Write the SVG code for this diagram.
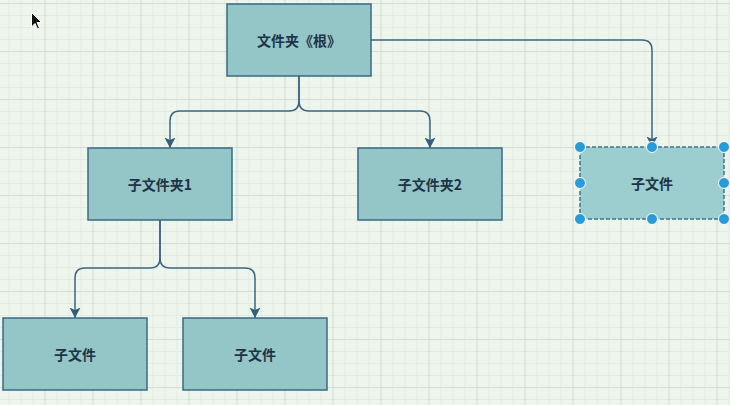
<svg xmlns="http://www.w3.org/2000/svg" width="730" height="405" viewBox="0 0 730 405">
  <defs>
    <pattern id="grid" patternUnits="userSpaceOnUse" x="44.5" y="3" width="48" height="48">
      <rect width="48" height="48" fill="#eef5ec"/>
      <path d="M12.5,0V48M24.5,0V48M36.5,0V48M0,12.5H48M0,24.5H48M0,36.5H48" stroke="#e3ebe1" stroke-width="1" fill="none"/>
      <path d="M0.5,0V48M0,0.5H48" stroke="#d3dcd2" stroke-width="1" fill="none"/>
    </pattern>
    <marker id="arrow" markerUnits="userSpaceOnUse" markerWidth="12" markerHeight="12" viewBox="0 0 12 12" refX="10.5" refY="6" orient="auto">
      <path d="M0,0.5 L10.5,6 L0,11.5 L2.5,6 z" fill="#345f7b"/>
    </marker>
    <style>
      .node rect { fill: #94c5c7; stroke: #3a6985; stroke-width: 1.5; }
      .node text { font-family: "Noto Sans CJK SC", "Noto Sans", sans-serif; font-size: 14px; font-weight: bold; fill: #1d3446; text-anchor: middle; dominant-baseline: central; }
      .edge { fill: none; stroke: #3a6581; stroke-width: 1.5; marker-end: url(#arrow); }
      .sel rect { fill: #9ccdcf; stroke: #3a7590; stroke-dasharray: 4 2; }
      .handle { fill: #2a9bd9; stroke: #ffffff; stroke-width: 1; }
    </style>
  </defs>
  <rect width="730" height="405" fill="url(#grid)"/>

  <g id="connectors">
    <path class="edge" d="M299,76 V101 Q299,111 289,111 H180 Q170,111 170,121 V148"/>
    <path class="edge" d="M299,76 V101 Q299,111 309,111 H420 Q430,111 430,121 V148"/>
    <path class="edge" d="M371,40 H642 Q652,40 652,50 V147"/>
    <path class="edge" d="M160,220 V258 Q160,268 150,268 H85 Q75,268 75,278 V318"/>
    <path class="edge" d="M160,220 V258 Q160,268 170,268 H245 Q255,268 255,278 V318"/>
  </g>

  <g id="root" class="node">
    <rect x="227" y="4" width="144" height="72"/>
    <text x="299" y="40">文件夹《根》</text>
  </g>
  <g id="folder1" class="node">
    <rect x="88" y="148" width="144" height="72"/>
    <text x="160" y="184">子文件夹1</text>
  </g>
  <g id="folder2" class="node">
    <rect x="358" y="148" width="144" height="72"/>
    <text x="430" y="184">子文件夹2</text>
  </g>
  <g id="file-selected" class="node sel">
    <rect x="580" y="147" width="144" height="72"/>
    <text x="652" y="183">子文件</text>
    <circle class="handle" cx="580" cy="147" r="5.5"/>
    <circle class="handle" cx="652" cy="147" r="5.5"/>
    <circle class="handle" cx="724" cy="147" r="5.5"/>
    <circle class="handle" cx="580" cy="183" r="5.5"/>
    <circle class="handle" cx="724" cy="183" r="5.5"/>
    <circle class="handle" cx="580" cy="219" r="5.5"/>
    <circle class="handle" cx="652" cy="219" r="5.5"/>
    <circle class="handle" cx="724" cy="219" r="5.5"/>
  </g>
  <g id="file1" class="node">
    <rect x="3" y="318" width="144" height="72"/>
    <text x="75" y="354">子文件</text>
  </g>
  <g id="file2" class="node">
    <rect x="183" y="318" width="144" height="72"/>
    <text x="255" y="354">子文件</text>
  </g>

  <path id="cursor" d="M31.5,12.5 V27 L35,23.5 L37.5,29 L39.5,28 L37,22.5 L41.5,22.5 Z" fill="#111111" stroke="#ffffff" stroke-width="1"/>
</svg>
